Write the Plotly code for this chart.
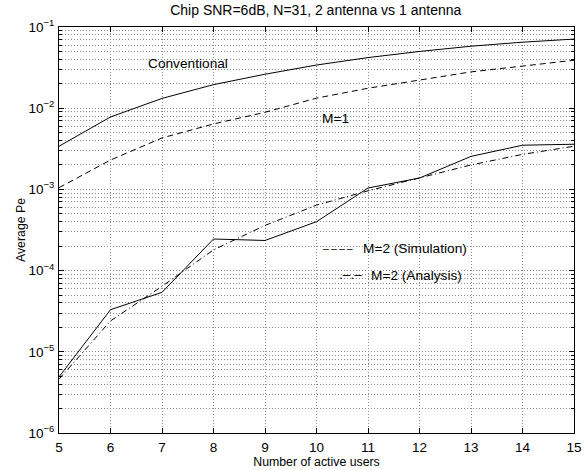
import plotly.graph_objects as go

users = [5, 6, 7, 8, 9, 10, 11, 12, 13, 14, 15]
conventional = [3.4e-3, 7.8e-3, 1.32e-2, 1.95e-2, 2.62e-2, 3.4e-2, 4.2e-2, 5.0e-2, 5.8e-2, 6.5e-2, 7.1e-2]
m1 = [1.05e-3, 2.3e-3, 4.3e-3, 6.4e-3, 8.9e-3, 1.33e-2, 1.76e-2, 2.23e-2, 2.8e-2, 3.3e-2, 3.9e-2]
m2_sim = [4.9e-6, 3.3e-5, 5.4e-5, 2.45e-4, 2.35e-4, 4.0e-4, 1.04e-3, 1.38e-3, 2.55e-3, 3.5e-3, 3.6e-3]
m2_ana = [4.6e-6, 2.4e-5, 6.4e-5, 1.8e-4, 3.6e-4, 6.4e-4, 9.6e-4, 1.38e-3, 2.0e-3, 2.7e-3, 3.4e-3]

decades = [-6, -5, -4, -3, -2, -1]
ytick_vals = [10.0 ** e for e in decades]
ytick_text = ["10<sup>−%d</sup>" % (-e) for e in decades]
yminor_vals = [k * 10.0 ** e for e in decades[:-1] for k in range(2, 10)]

FONT = "Liberation Sans, Arial, Helvetica, sans-serif"
GRID = "#8c8c8c"
GDASH = "1px,2px"

fig = go.Figure()
fig.add_trace(go.Scatter(x=users, y=conventional, mode="lines", line=dict(color="black", width=1)))
fig.add_trace(go.Scatter(x=users, y=m1, mode="lines", line=dict(color="black", width=1, dash="6px,4px")))
fig.add_trace(go.Scatter(x=users, y=m2_sim, mode="lines", line=dict(color="black", width=1)))
fig.add_trace(go.Scatter(x=users, y=m2_ana, mode="lines", line=dict(color="black", width=1, dash="6px,3px,1px,3px")))

axis_common = dict(
    showline=True, linecolor="black", linewidth=1, mirror="ticks",
    ticks="inside", ticklen=5, tickcolor="black", automargin=False,
    showgrid=True, gridcolor=GRID, griddash=GDASH, gridwidth=1,
    zeroline=False, tickfont=dict(family=FONT, size=13.5, color="black"),
)

fig.update_xaxes(range=[5, 15], tickvals=users, ticklabelstandoff=2, **axis_common,
                 title=dict(text="Number of active users", font=dict(family=FONT, size=12.3, color="black"), standoff=0))
fig.update_yaxes(type="log", range=[-6, -1], tickvals=ytick_vals, ticktext=ytick_text, ticklabelstandoff=1,
                 **axis_common,
                 minor=dict(tickmode="array", tickvals=yminor_vals, ticks="inside", ticklen=3, tickcolor="black",
                            showgrid=True, gridcolor=GRID, griddash=GDASH, gridwidth=1),
                 title=dict(text="Average Pe", font=dict(family=FONT, size=12.3, color="black"), standoff=0))

ann_font = dict(family=FONT, size=13.7, color="black")
fig.add_annotation(x=7.5, y=-1.447, text="Conventional", showarrow=False, font=ann_font, xanchor="center")
fig.add_annotation(x=10.37, y=-2.123, text="M=1", showarrow=False, font=ann_font, xanchor="center")
fig.add_annotation(x=10.42, y=-3.725, text="–\u2009–\u2009–\u2009–", showarrow=False,
                   font=dict(family=FONT, size=10.5, color="black"), xanchor="center")
fig.add_annotation(x=10.87, y=-3.731, text="M=2 (Simulation)", showarrow=False, font=ann_font, xanchor="left")
fig.add_annotation(x=10.66, y=-4.052, text=".–.–", showarrow=False, font=ann_font, xanchor="center")
fig.add_annotation(x=11.02, y=-4.058, text="M=2 (Analysis)", showarrow=False, font=ann_font, xanchor="left")

fig.update_layout(
    width=588, height=470,
    margin=dict(l=59, r=14, t=27, b=37),
    paper_bgcolor="white", plot_bgcolor="white",
    showlegend=False,
    title=dict(text="Chip SNR=6dB, N=31, 2 antenna vs 1 antenna", x=0.537, xanchor="center",
               y=0.99, yanchor="top", font=dict(family=FONT, size=14, color="black")),
)

fig.write_html("out.html")
